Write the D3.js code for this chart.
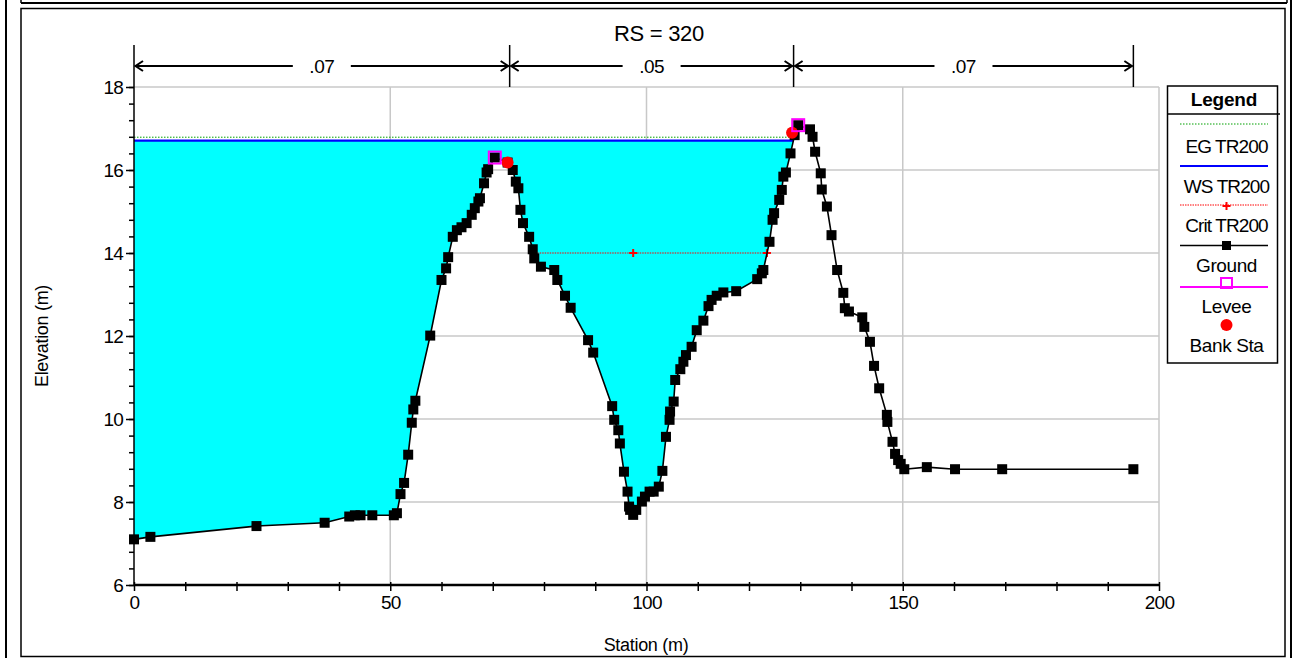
<!DOCTYPE html>
<html>
<head>
<meta charset="utf-8">
<script src="https://cdn.jsdelivr.net/npm/d3@7"></script>
<style>
html,body{margin:0;padding:0;background:#fff;}
svg{display:block;font-family:"Liberation Sans",Arial,sans-serif;}
</style>
</head>
<body>
<svg id="chart" width="1296" height="658"></svg>
<script>
// ---------- data ----------
const title = "RS = 320";
const groundSta = [0,3.2,23.9,37.2,42.0,43.1,44.2,46.5,50.7,51.3,52.0,52.7,53.5,54.2,54.5,54.9,57.8,60.0,60.9,61.3,62.2,63.0,63.9,64.9,65.9,66.5,67.2,67.5,68.3,68.8,69.1,70.4,72.9,73.9,74.5,75.0,75.4,75.9,77.1,77.8,78.1,79.4,82.0,82.6,84.1,85.2,88.6,89.6,93.3,93.7,94.5,94.8,95.6,96.3,96.6,96.8,97.4,98.0,99.1,99.7,100.6,101.4,102.4,103.1,103.8,104.5,104.6,105.3,105.6,106.6,107.2,107.7,108.8,109.8,111.1,112.1,112.7,113.7,115.0,117.5,121.6,122.5,122.8,124.0,124.6,124.9,125.9,126.4,126.7,127.2,128.1,128.9,129.6,131.9,132.4,132.9,134.0,134.2,135.2,136.1,137.2,138.4,138.7,139.5,142.1,142.5,143.6,144.4,145.4,146.9,147.0,148.0,148.5,149.1,149.6,150.3,154.7,160.2,169.4,195.0];
const groundElev = [7.10,7.16,7.42,7.50,7.65,7.68,7.68,7.68,7.68,7.73,8.19,8.46,9.14,9.91,10.23,10.44,12.01,13.35,13.63,13.90,14.39,14.55,14.62,14.72,14.92,15.08,15.24,15.32,15.68,15.94,16.02,16.30,16.18,16.00,15.72,15.56,15.04,14.72,14.39,14.09,13.87,13.67,13.59,13.35,12.97,12.68,11.90,11.60,10.31,9.98,9.73,9.41,8.73,8.25,7.89,7.81,7.69,7.81,8.01,8.13,8.25,8.25,8.37,8.75,9.57,9.98,10.18,10.42,10.94,11.20,11.38,11.54,11.74,12.14,12.37,12.72,12.87,12.97,13.05,13.08,13.37,13.51,13.59,14.27,14.80,14.96,15.28,15.52,15.84,15.94,16.40,16.84,17.08,16.98,16.80,16.44,15.92,15.53,15.12,14.43,13.59,13.04,12.67,12.59,12.45,12.22,11.86,11.28,10.74,10.10,9.93,9.45,9.16,9.01,8.92,8.79,8.84,8.79,8.79,8.79];
const wsElev = 16.71;
const egElev = 16.79;
const critElev = 14.0;
const critSta = [77.7, 97.4, 123.5];
const leveeSta = [70.4, 129.6];
const leveeElev = [16.30, 17.08];
const bankSta = [72.9, 128.4];
const bankElev = [16.18, 16.90];
const nSta = [0, 73.3, 128.7, 195.0];
const nVals = [".07", ".05", ".07"];
const xTicksMajor = [0, 50, 100, 150, 200];
const yTicksMajor = [6, 8, 10, 12, 14, 16, 18];
const legendItems = ["EG TR200", "WS TR200", "Crit TR200", "Ground", "Levee", "Bank Sta"];

// ---------- setup ----------
const svg = d3.select("#chart");
const x = d3.scaleLinear().domain([0, 200]).range([134, 1159]);
const y = d3.scaleLinear().domain([6, 18]).range([585, 87]);
const FF = "Liberation Sans, Arial, sans-serif";

// frame
const frame = svg.append("g").attr("fill", "none").attr("stroke", "#000");
frame.append("line").attr("x1", 6).attr("y1", 0).attr("x2", 6).attr("y2", 658).attr("stroke-width", 2);
frame.append("line").attr("x1", 1291).attr("y1", 0).attr("x2", 1291).attr("y2", 658).attr("stroke-width", 2);
frame.append("line").attr("x1", 21).attr("y1", 3).attr("x2", 1287).attr("y2", 3).attr("stroke-width", 2);
frame.append("line").attr("x1", 21).attr("y1", 0).attr("x2", 21).attr("y2", 3).attr("stroke-width", 1.5);
frame.append("line").attr("x1", 1287).attr("y1", 0).attr("x2", 1287).attr("y2", 3).attr("stroke-width", 1.5);
frame.append("rect").attr("x", 21).attr("y", 8.5).attr("width", 1264).attr("height", 648).attr("stroke-width", 1.5);

// title
svg.append("text").attr("x", 659).attr("y", 41).attr("text-anchor", "middle")
  .attr("font-size", 22).attr("letter-spacing", "-0.3").text(title);

// grid
const grid = svg.append("g").attr("stroke", "#c8c8c8").attr("stroke-width", 1.5);
xTicksMajor.filter(d => d > 0).forEach(d => {
  grid.append("line").attr("x1", x(d)).attr("x2", x(d)).attr("y1", y(6)).attr("y2", y(18));
});
yTicksMajor.filter(d => d > 6).forEach(d => {
  grid.append("line").attr("x1", x(0)).attr("x2", x(200)).attr("y1", y(d)).attr("y2", y(d));
});

// water fill: from x=0 to first rising crossing of WS
const pts = groundSta.map((s, i) => [s, groundElev[i]]);
let xR = null, iR = null;
for (let i = 0; i < pts.length - 1; i++) {
  if (pts[i][1] < wsElev && pts[i + 1][1] >= wsElev) {
    const t = (wsElev - pts[i][1]) / (pts[i + 1][1] - pts[i][1]);
    xR = pts[i][0] + t * (pts[i + 1][0] - pts[i][0]);
    iR = i;
    break;
  }
}
const wet = pts.slice(0, iR + 1).map(p => [p[0], Math.min(p[1], wsElev)]);
wet.push([xR, wsElev]);
const area = d3.area().x(d => x(d[0])).y0(y(wsElev)).y1(d => y(d[1]));
svg.append("path").datum(wet).attr("d", area).attr("fill", "#00ffff");

// EG & WS lines
svg.append("line").attr("x1", x(0)).attr("x2", x(xR + 0.2)).attr("y1", y(egElev)).attr("y2", y(egElev))
  .attr("stroke", "#00a000").attr("stroke-width", 1).attr("stroke-dasharray", "1.5,1.5");
svg.append("line").attr("x1", x(0)).attr("x2", x(xR)).attr("y1", y(wsElev)).attr("y2", y(wsElev))
  .attr("stroke", "#0000ff").attr("stroke-width", 2.2);

// crit
svg.append("line").attr("x1", x(critSta[0])).attr("x2", x(critSta[critSta.length - 1]))
  .attr("y1", y(critElev)).attr("y2", y(critElev))
  .attr("stroke", "#ff0000").attr("stroke-width", 1).attr("stroke-dasharray", "1.5,1");
function plus(g, cx, cy) {
  g.append("path").attr("d", `M${cx - 4},${cy}H${cx + 4}M${cx},${cy - 4}V${cy + 4}`)
    .attr("stroke", "#ff0000").attr("stroke-width", 2);
}
critSta.forEach(s => plus(svg, x(s), y(critElev)));

// ground
const line = d3.line().x(d => x(d[0])).y(d => y(d[1]));
svg.append("path").datum(pts).attr("d", line).attr("fill", "none").attr("stroke", "#000").attr("stroke-width", 1.6);
svg.append("g").selectAll("rect").data(pts).join("rect")
  .attr("x", d => x(d[0]) - 5).attr("y", d => y(d[1]) - 5)
  .attr("width", 10).attr("height", 10).attr("fill", "#000");

// bank stations
svg.append("g").selectAll("circle").data(bankSta).join("circle")
  .attr("cx", d => x(d)).attr("cy", (d, i) => y(bankElev[i])).attr("r", 6).attr("fill", "#ff0000");

// levees
svg.append("g").selectAll("rect").data(leveeSta).join("rect")
  .attr("x", d => x(d) - 6).attr("y", (d, i) => y(leveeElev[i]) - 6)
  .attr("width", 12).attr("height", 12).attr("fill", "none").attr("stroke", "#ff00ff").attr("stroke-width", 2);

// axes
const yMinor = d3.range(0, 31).map(i => 6 + i * 0.4);
const yAx = svg.append("g").attr("transform", `translate(${x(0)},0)`)
  .call(d3.axisLeft(y).tickValues(yMinor).tickSize(5).tickFormat(""));
yAx.select(".domain").remove();
yAx.selectAll("line").attr("stroke", "#000").attr("stroke-width", 1.5);
const yAx2 = svg.append("g").attr("transform", `translate(${x(0)},0)`)
  .call(d3.axisLeft(y).tickValues(yTicksMajor).tickSize(8).tickPadding(3).tickFormat(d3.format("d")));
yAx2.select(".domain").remove();
yAx2.selectAll("line").attr("stroke", "#000").attr("stroke-width", 1.5);
yAx2.selectAll("text").attr("font-size", 19).attr("letter-spacing", "-0.8").attr("fill", "#000").attr("font-family", FF);
svg.append("line").attr("x1", x(0)).attr("x2", x(0)).attr("y1", y(6)).attr("y2", y(18))
  .attr("stroke", "#000").attr("stroke-width", 1.5);

const xMinor = d3.range(0, 21).map(i => i * 10);
const xAx = svg.append("g").attr("transform", `translate(0,${y(6)})`)
  .call(d3.axisBottom(x).tickValues(xMinor).tickSize(6).tickFormat(""));
xAx.select(".domain").remove();
xAx.selectAll("line").attr("stroke", "#000").attr("stroke-width", 1.5).attr("y1", -3);
const xAx2 = svg.append("g").attr("transform", `translate(0,${y(6)})`)
  .call(d3.axisBottom(x).tickValues(xTicksMajor).tickSize(6).tickPadding(5).tickFormat(d3.format("d")));
xAx2.select(".domain").remove();
xAx2.selectAll("line").attr("stroke", "none");
xAx2.selectAll("text").attr("font-size", 19).attr("letter-spacing", "-0.8").attr("fill", "#000").attr("font-family", FF);
svg.append("line").attr("x1", x(0)).attr("x2", x(200)).attr("y1", y(6)).attr("y2", y(6))
  .attr("stroke", "#000").attr("stroke-width", 2.5);

// axis titles
svg.append("text").attr("transform", `translate(48,336) rotate(-90)`).attr("text-anchor", "middle")
  .attr("font-size", 18).attr("letter-spacing", "-0.3").text("Elevation (m)");
svg.append("text").attr("x", 646).attr("y", 651).attr("text-anchor", "middle")
  .attr("font-size", 18).attr("letter-spacing", "-0.3").text("Station (m)");

// Manning's n bar
const nb = svg.append("g");
const barY = 66;
nSta.forEach(s => {
  nb.append("line").attr("x1", x(s)).attr("x2", x(s)).attr("y1", 45).attr("y2", y(18))
    .attr("stroke", "#000").attr("stroke-width", 1.5);
});
nVals.forEach((v, i) => {
  const a = x(nSta[i]), b = x(nSta[i + 1]), m = (a + b) / 2;
  const gap = 29;
  nb.append("line").attr("x1", a + 1).attr("x2", m - gap).attr("y1", barY).attr("y2", barY).attr("stroke", "#000").attr("stroke-width", 2);
  nb.append("line").attr("x1", m + gap).attr("x2", b - 1).attr("y1", barY).attr("y2", barY).attr("stroke", "#000").attr("stroke-width", 2);
  nb.append("path").attr("d", `M${a + 9},${barY - 5}L${a + 1.5},${barY}L${a + 9},${barY + 5}`)
    .attr("fill", "none").attr("stroke", "#000").attr("stroke-width", 2);
  nb.append("path").attr("d", `M${b - 9},${barY - 5}L${b - 1.5},${barY}L${b - 9},${barY + 5}`)
    .attr("fill", "none").attr("stroke", "#000").attr("stroke-width", 2);
  nb.append("text").attr("x", m).attr("y", barY + 7).attr("text-anchor", "middle").attr("font-size", 19)
    .attr("letter-spacing", "-0.5").text(v);
});

// legend
const lg = svg.append("g");
lg.append("rect").attr("x", 1167.5).attr("y", 86).attr("width", 110).attr("height", 277)
  .attr("fill", "#fff").attr("stroke", "#000").attr("stroke-width", 1.5);
lg.append("line").attr("x1", 1167).attr("x2", 1280).attr("y1", 114).attr("y2", 114).attr("stroke", "#000").attr("stroke-width", 1.5);
lg.append("text").attr("x", 1224).attr("y", 106).attr("text-anchor", "middle").attr("font-size", 19)
  .attr("font-weight", "bold").attr("letter-spacing", "-0.2").text("Legend");
const lx1 = 1180, lx2 = 1268, lc = 1226.5;
const symY = [124, 166, 205, 245.5, 287, 325];
const txtY = [153, 193, 232, 272, 313, 352];
// EG
lg.append("line").attr("x1", lx1).attr("x2", lx2).attr("y1", symY[0]).attr("y2", symY[0])
  .attr("stroke", "#00a000").attr("stroke-width", 1).attr("stroke-dasharray", "1.5,1.5");
// WS
lg.append("line").attr("x1", lx1).attr("x2", lx2).attr("y1", symY[1]).attr("y2", symY[1])
  .attr("stroke", "#0000ff").attr("stroke-width", 2);
// Crit
lg.append("line").attr("x1", lx1).attr("x2", lx2).attr("y1", symY[2]).attr("y2", symY[2])
  .attr("stroke", "#ff0000").attr("stroke-width", 1).attr("stroke-dasharray", "1.5,1");
plus(lg, lc, symY[2] + 1);
// Ground
lg.append("line").attr("x1", lx1).attr("x2", lx2).attr("y1", symY[3]).attr("y2", symY[3])
  .attr("stroke", "#000").attr("stroke-width", 1.5);
lg.append("rect").attr("x", lc - 4.5).attr("y", symY[3] - 4.5).attr("width", 9).attr("height", 9).attr("fill", "#000");
// Levee
lg.append("line").attr("x1", lx1).attr("x2", lx2).attr("y1", symY[4]).attr("y2", symY[4])
  .attr("stroke", "#ff00ff").attr("stroke-width", 2);
lg.append("rect").attr("x", lc - 5.5).attr("y", symY[4] - 9).attr("width", 11).attr("height", 10)
  .attr("fill", "none").attr("stroke", "#ff00ff").attr("stroke-width", 2);
// Bank
lg.append("circle").attr("cx", lc).attr("cy", symY[5]).attr("r", 6).attr("fill", "#ff0000");
legendItems.forEach((t, i) => {
  lg.append("text").attr("x", lc).attr("y", txtY[i]).attr("text-anchor", "middle")
    .attr("font-size", 19).attr("letter-spacing", i < 3 ? "-0.9" : "-0.4").text(t);
});
</script>
</body>
</html>
